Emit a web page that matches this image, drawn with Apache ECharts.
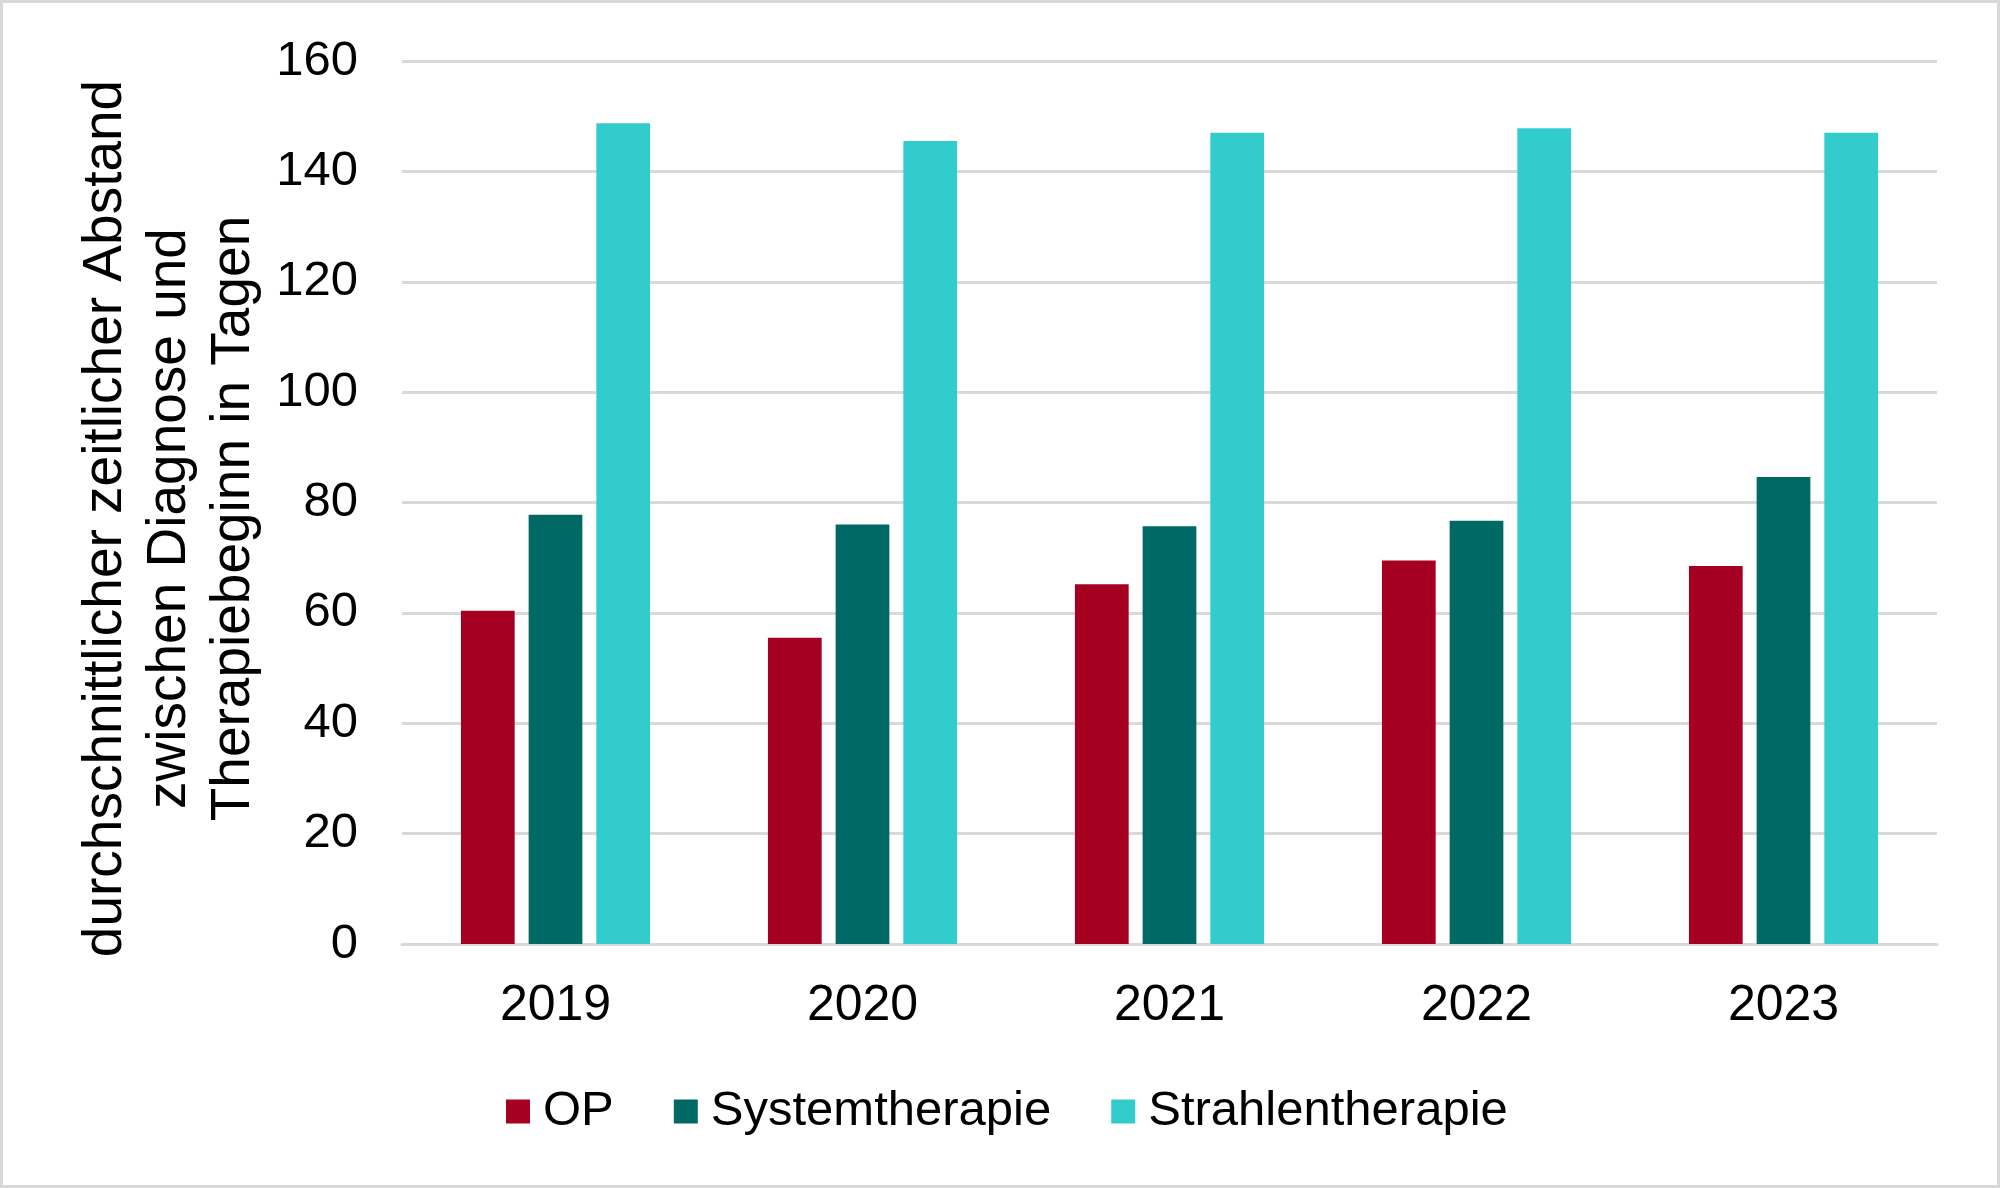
<!DOCTYPE html>
<html>
<head>
<meta charset="utf-8">
<script src="https://cdn.jsdelivr.net/npm/echarts@6/dist/echarts.min.js"></script>
<style>
html,body{margin:0;padding:0;background:#fff;}
#c{width:2000px;height:1188px;box-sizing:border-box;border:3px solid #d9d9d9;}
</style>
</head>
<body>
<div id="c"></div>
<script>
const categories = ['2019', '2020', '2021', '2022', '2023'];
const seriesNames = ['OP', 'Systemtherapie', 'Strahlentherapie'];
const opValues = [60.4, 55.5, 65.2, 69.5, 68.5];
const systemValues = [77.8, 76.0, 75.7, 76.7, 84.6];
const strahlenValues = [148.7, 145.5, 147.0, 147.8, 147.0];
const colors = ['#A50021', '#006966', '#33CCCC'];
const yTitle = 'durchschnittlicher zeitlicher Abstand\nzwischen Diagnose und\nTherapiebeginn in Tagen';

const font = '"Liberation Sans", Arial, sans-serif';
const chart = echarts.init(document.getElementById('c'));
const values = [opValues, systemValues, strahlenValues];
chart.setOption({
  animation: false,
  textStyle: {fontFamily: font},
  grid: {left: 399, right: 60, top: 58, bottom: 241},
  legend: {
    bottom: 44,
    left: 498,
    itemWidth: 24,
    itemHeight: 24,
    itemGap: 60,
    icon: 'rect',
    textStyle: {fontSize: 49, color: '#000', fontFamily: font, padding: [0, 0, 0, 8]},
    data: seriesNames
  },
  xAxis: {
    type: 'category',
    data: categories,
    axisLine: {lineStyle: {color: '#d9d9d9', width: 3}},
    axisTick: {show: false},
    axisLabel: {fontSize: 50, color: '#000', margin: 37, fontFamily: font}
  },
  yAxis: {
    type: 'value',
    min: 0, max: 160, interval: 20,
    name: yTitle,
    nameLocation: 'middle',
    nameGap: 135,
    nameTextStyle: {fontSize: 55, color: '#000', lineHeight: 64, fontFamily: font, padding: [0, 32, 0, 0]},
    axisLine: {show: false},
    axisTick: {show: false},
    splitLine: {lineStyle: {color: '#d9d9d9', width: 3}},
    axisLabel: {fontSize: 49, color: '#000', margin: 44, fontFamily: font}
  },
  series: seriesNames.map((n, i) => ({
    name: n,
    type: 'bar',
    data: values[i],
    barWidth: '17.5%',
    barGap: '26%',
    itemStyle: {color: colors[i]}
  }))
});
</script>
</body>
</html>
